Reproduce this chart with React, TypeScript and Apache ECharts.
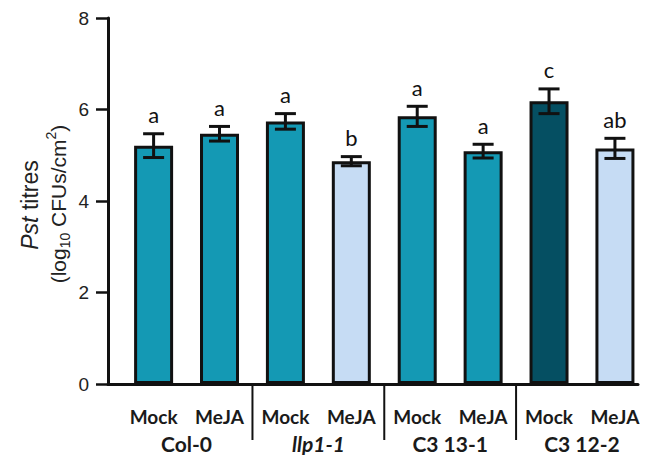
import React, { useEffect, useRef } from "react";
import * as echarts from "echarts";

const genotypes = ["Col-0", "llp1-1", "C3 13-1", "C3 12-2"];
const genotypeItalic = [false, true, false, false];
const treatments = ["Mock", "MeJA", "Mock", "MeJA", "Mock", "MeJA", "Mock", "MeJA"];
const means = [5.21, 5.47, 5.74, 4.87, 5.85, 5.09, 6.18, 5.15];
const errors = [0.26, 0.16, 0.17, 0.1, 0.22, 0.15, 0.27, 0.22];
const letters = ["a", "a", "a", "b", "a", "a", "c", "ab"];
const yTicks = [0, 2, 4, 6, 8];

const TEAL = "#1499b4";
const LIGHT = "#c6dcf4";
const DARK = "#054f62";
const barColors = [TEAL, TEAL, TEAL, LIGHT, TEAL, TEAL, DARK, LIGHT];

const SANS = "Liberation Sans, Arial, sans-serif";

export default function App() {
  const ref = useRef<HTMLDivElement>(null);
  useEffect(() => {
    const chart = echarts.init(ref.current!, undefined, { renderer: "svg" });
    const barData = means.map((v, i) => ({
      value: [i, v],
      itemStyle: { color: barColors[i] },
    }));
    const errData = means.map((v, i) => [i, v, errors[i]]);
    const labelData = treatments.map((t, i) => [i, 0]);
    const groupData = genotypes.map((g, k) => [k * 2 + 0.5, 0]);
    const sepData = [1.5, 3.5, 5.5].map((x) => [x, 0]);

    chart.setOption({
      animation: false,
      backgroundColor: "#ffffff",
      grid: { left: 108, right: 15, top: 18, bottom: 71 },
      xAxis: {
        type: "value",
        min: -0.692,
        max: 7.35,
        axisLine: { show: true, onZero: false, lineStyle: { color: "#111", width: 3 } },
        axisTick: { show: false },
        axisLabel: { show: false },
        splitLine: { show: false },
      },
      yAxis: {
        type: "value",
        min: yTicks[0],
        max: yTicks[yTicks.length - 1],
        interval: 2,
        axisLine: { show: true, onZero: false, lineStyle: { color: "#111", width: 3 } },
        axisTick: { show: true, inside: false, length: 12, lineStyle: { color: "#111", width: 2.5 } },
        axisLabel: {
          margin: 19,
          fontSize: 19,
          fontFamily: SANS,
          color: "#222",
        },
        splitLine: { show: false },
      },
      graphic: [
        {
          type: "text",
          x: 30,
          y: 205,
          rotation: Math.PI / 2,
          style: {
            text: "{i|Pst}{n| titres}",
            align: "center",
            verticalAlign: "middle",
            fontFamily: SANS,
            fill: "#222",
            rich: {
              i: { fontStyle: "italic", fontSize: 23, fontFamily: SANS, fill: "#222" },
              n: { fontSize: 23, fontFamily: SANS, fill: "#222" },
            },
          },
        },
        {
          type: "text",
          x: 58,
          y: 204,
          rotation: Math.PI / 2,
          style: {
            text: "{n|(log}{sub|10}{n| CFUs/cm}{sup|2}{n|)}",
            align: "center",
            verticalAlign: "middle",
            fontFamily: SANS,
            fill: "#222",
            rich: {
              n: { fontSize: 21, lineHeight: 28, fontFamily: SANS, fill: "#222" },
              sub: { fontSize: 14, lineHeight: 28, verticalAlign: "bottom", fontFamily: SANS, fill: "#222" },
              sup: { fontSize: 14, lineHeight: 28, verticalAlign: "top", fontFamily: SANS, fill: "#222" },
            },
          },
        },
      ],
      series: [
        {
          type: "bar",
          data: barData,
          barWidth: 39,
          itemStyle: { borderColor: "#111", borderWidth: 3 },
          z: 3,
        },
        {
          type: "custom",
          clip: false,
          z: 5,
          data: errData,
          renderItem: (params: any, api: any) => {
            const i = api.value(0);
            const m = api.value(1);
            const e = api.value(2);
            const top = api.coord([i, m + e]);
            const bot = api.coord([i, m - e]);
            const cx = top[0];
            const hw = 10.5;
            const ls = { stroke: "#111", lineWidth: 3 };
            return {
              type: "group",
              children: [
                { type: "line", shape: { x1: cx, y1: top[1], x2: cx, y2: bot[1] }, style: ls },
                { type: "line", shape: { x1: cx - hw, y1: top[1], x2: cx + hw, y2: top[1] }, style: ls },
                { type: "line", shape: { x1: cx - hw, y1: bot[1], x2: cx + hw, y2: bot[1] }, style: ls },
                {
                  type: "text",
                  x: cx,
                  y: top[1] - 8,
                  style: {
                    text: letters[params.dataIndex],
                    align: "center",
                    verticalAlign: "bottom",
                    fontSize: 22,
                    fontFamily: "Lato, sans-serif",
                    fill: "#111",
                  },
                },
              ],
            };
          },
        },
        {
          type: "custom",
          clip: false,
          z: 5,
          data: labelData,
          renderItem: (params: any, api: any) => {
            const p = api.coord([api.value(0), 0]);
            return {
              type: "text",
              x: p[0],
              y: p[1] + 32,
              style: {
                text: treatments[params.dataIndex],
                align: "center",
                verticalAlign: "middle",
                fontSize: 19,
                fontWeight: "bold",
                fontFamily: "Lato, sans-serif",
                fill: "#1a1a1a",
              },
            };
          },
        },
        {
          type: "custom",
          clip: false,
          z: 5,
          data: groupData,
          renderItem: (params: any, api: any) => {
            const p = api.coord([api.value(0), 0]);
            return {
              type: "text",
              x: p[0],
              y: p[1] + 59,
              style: {
                text: genotypes[params.dataIndex],
                align: "center",
                verticalAlign: "middle",
                fontSize: 21,
                fontWeight: "bold",
                fontStyle: genotypeItalic[params.dataIndex] ? "italic" : "normal",
                fontFamily: "Lato, sans-serif",
                fill: "#1a1a1a",
              },
            };
          },
        },
        {
          type: "custom",
          clip: false,
          z: 5,
          data: sepData,
          renderItem: (params: any, api: any) => {
            const p = api.coord([api.value(0), 0]);
            return {
              type: "line",
              shape: { x1: p[0], y1: p[1], x2: p[0], y2: p[1] + 56 },
              style: { stroke: "#111", lineWidth: 2 },
            };
          },
        },
      ],
    });
    return () => chart.dispose();
  }, []);
  return (
    <div
      ref={ref}
      style={{ position: "absolute", left: 0, top: 0, width: 653, height: 455, background: "#fff" }}
    />
  );
}
